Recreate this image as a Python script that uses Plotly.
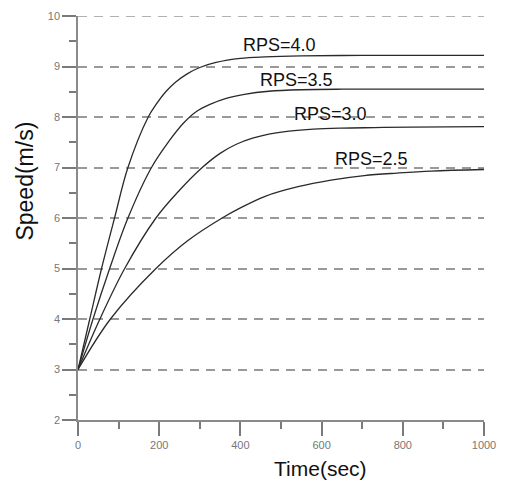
import plotly.graph_objects as go

# Data
t_40 = [0, 29, 58, 90, 123, 173, 195, 216, 240, 270, 300, 340, 400, 460, 550, 700, 850, 1000]
v_40 = [3.0, 4.0, 5.0, 6.0, 7.0, 8.0, 8.28, 8.5, 8.69, 8.86, 8.98, 9.08, 9.16, 9.19, 9.21, 9.22, 9.22, 9.22]

t_35 = [0, 37, 78, 123, 181, 225, 260, 290, 325, 365, 410, 470, 550, 650, 800, 1000]
v_35 = [3.0, 4.0, 5.0, 6.0, 7.0, 7.53, 7.88, 8.1, 8.25, 8.37, 8.45, 8.51, 8.54, 8.55, 8.55, 8.55]

t_30 = [0, 54, 115, 192, 250, 306, 350, 390, 430, 470, 520, 580, 650, 730, 820, 1000]
v_30 = [3.0, 4.0, 5.0, 6.0, 6.55, 7.0, 7.28, 7.46, 7.58, 7.66, 7.72, 7.76, 7.78, 7.79, 7.80, 7.81]

t_25 = [0, 80, 192, 270, 355, 400, 461, 542, 623, 705, 786, 870, 1000]
v_25 = [3.0, 4.0, 5.0, 5.55, 6.0, 6.2, 6.43, 6.62, 6.75, 6.84, 6.89, 6.93, 6.96]

series = [(t_40, v_40), (t_35, v_35), (t_30, v_30), (t_25, v_25)]

label_texts = ["RPS=4.0", "RPS=3.5", "RPS=3.0", "RPS=2.5"]
label_x = [497, 537, 622, 723]
label_y = [9.43, 8.74, 8.05, 7.16]

x_ticks = [0, 200, 400, 600, 800, 1000]
y_ticks = [2, 3, 4, 5, 6, 7, 8, 9, 10]
y_top = y_ticks[-1]

FONT = "Liberation Sans, Arial, sans-serif"
AXC = "#8a8a8a"
GRIDC = "#999999"

fig = go.Figure()
for t, v in series:
    fig.add_trace(go.Scatter(
        x=t, y=v, mode="lines",
        line=dict(color="#2a2a2a", width=1.3, shape="spline", smoothing=1.0),
        showlegend=False, hoverinfo="skip"))

for txt, lx, ly in zip(label_texts, label_x, label_y):
    fig.add_annotation(x=lx, y=ly, xref="x", yref="y", text=txt, showarrow=False,
                       font=dict(family=FONT, size=18, color="#111"),
                       xanchor="center", yanchor="middle")

fig.add_annotation(x=(322.5 - 78) / 410, y=(420 - 469) / 410, xref="paper", yref="paper",
                   text="Time(sec)", showarrow=False,
                   font=dict(family=FONT, size=21, color="#111"),
                   xanchor="center", yanchor="middle")
fig.add_annotation(x=(25 - 78) / 410, y=(420 - 177.5) / 410, xref="paper", yref="paper",
                   text="Speed(m/s)", showarrow=False, textangle=-90,
                   font=dict(family=FONT, size=23, color="#111"),
                   xanchor="center", yanchor="middle")

# top gridline (plotly omits the gridline on the plot edge)
fig.add_shape(type="line", xref="paper", yref="y", x0=0, x1=1, y0=y_top, y1=y_top,
              line=dict(color=GRIDC, width=1.5, dash="9px,7px"), layer="below")

fig.update_layout(
    width=506, height=490,
    margin=dict(l=78, r=18, t=10, b=70),
    paper_bgcolor="white", plot_bgcolor="white",
    font=dict(family=FONT),
    xaxis=dict(
        range=[0, 1000], tickvals=x_ticks, ticktext=[str(v) for v in x_ticks],
        showgrid=False, zeroline=False,
        showline=True, linecolor=AXC, linewidth=1.5,
        ticks="outside", ticklen=14, tickwidth=1.5, tickcolor="#7a7a7a",
        tickfont=dict(family=FONT, size=11, color="#777"),
        minor=dict(ticks="outside", ticklen=7, tickwidth=1.5, tickcolor="#7a7a7a",
                   tickvals=[100, 300, 500, 700, 900], showgrid=False),
    ),
    yaxis=dict(
        range=[2, 10], tickvals=y_ticks, ticktext=[str(v) for v in y_ticks],
        showgrid=True, gridcolor=GRIDC, gridwidth=1.5, griddash="9px,7px",
        zeroline=False,
        showline=True, linecolor=AXC, linewidth=1.5,
        ticks="outside", ticklen=14, tickwidth=1.5, tickcolor="#7a7a7a",
        tickfont=dict(family=FONT, size=11, color="#777"),
        minor=dict(ticks="outside", ticklen=7, tickwidth=1.5, tickcolor="#7a7a7a",
                   tickvals=[2.5, 3.5, 4.5, 5.5, 6.5, 7.5, 8.5, 9.5], showgrid=False),
    ),
)

fig.write_html("out.html")
